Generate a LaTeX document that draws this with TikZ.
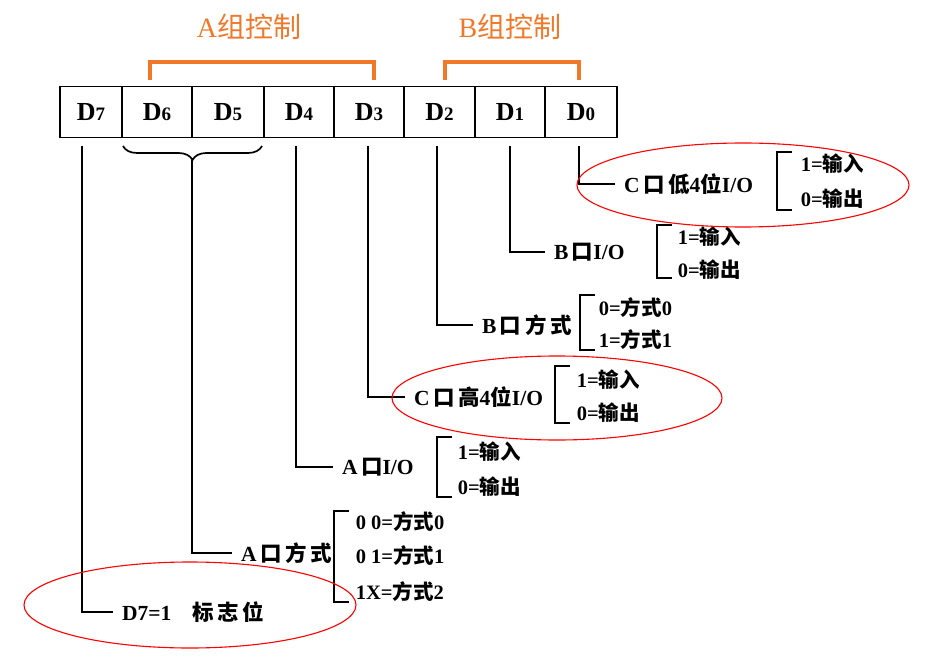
\documentclass[tikz,border=0pt]{standalone}
\usepackage{fontspec}
\setmainfont{Liberation Serif}
\newfontfamily\cjk{Noto Sans CJK SC}
\usetikzlibrary{decorations.pathreplacing}
\definecolor{grouporange}{RGB}{240,120,40}
\newcommand{\zh}[1]{{\cjk #1}}
\newcommand{\bitname}[1]{D{\fontsize{19}{19}\selectfont #1}}
\newcommand{\optbrack}[3]{\draw (#1+15,#2) -- (#1,#2) -- (#1,#3) -- (#1+15,#3);}
\tikzset{
  cell/.style={draw, line width=1.4pt, minimum height=51pt, inner sep=0pt, outer sep=0pt,
    font=\bfseries\fontsize{26}{26}\selectfont},
  desc/.style={anchor=west, inner sep=0pt, outer xsep=9pt, font=\bfseries\fontsize{21.5}{25}\selectfont},
  opt/.style={anchor=west, inner sep=0pt, font=\bfseries\fontsize{20.5}{24}\selectfont},
  grp/.style={text=grouporange, font=\fontsize{28}{32}\selectfont},
  ring/.style={draw=red, line width=1.1pt}
}
\begin{document}
\begin{tikzpicture}[x=1pt, y=-1pt, line width=1.7pt]
            \useasboundingbox[fill=white] (0,0) rectangle (928,660);
            % control word cells
            \foreach \n/\l/\r in {7/60/122,6/122/192,5/192/264,4/264/334,3/334/404,2/404/475,1/475/545,0/545/617}
                \node[cell, minimum width={(\r-\l)*1pt}] (d\n) at ({(\l+\r)/2},112) {\bitname{\n}};
            % group labels
            \node[grp] (ga) at (249,27) {A\zh{组控制}};
            \node[grp] (gb) at (510,27) {B\zh{组控制}};
            \draw[grouporange, line width=3.2pt] (150,80) |- (374,62) -- (374,80);
            \draw[grouporange, line width=3.2pt] (445,80) |- (579,62) -- (579,80);
            % line tops
            \coordinate (t7) at (82,146);
            \coordinate (t65) at (192,160);
            \coordinate (t4) at (296,146);
            \coordinate (t3) at (368,146);
            \coordinate (t2) at (437,146);
            \coordinate (t1) at (510,146);
            \coordinate (t0) at (579,146);
            \draw[decorate, decoration={brace, mirror, amplitude=14pt}] (123,146) -- (262,146);
            % descriptions
            \node[desc] (c0) at (615,184) {C\,\zh{口\,低}4\zh{位}I/O};
            \node[desc] (b1) at (545,252) {B\,\zh{口}I/O};
            \node[desc] (b2) at (473,325) {B\,\zh{口\,方\,式}};
            \node[desc] (c3) at (405,397) {C\,\zh{口\,高}4\zh{位}I/O};
            \node[desc] (a4) at (333,467) {A\,\zh{口}I/O};
            \node[desc] (a65) at (232,553) {A\,\zh{口\,方\,式}};
            \node[desc] (f7) at (113,612) {D7=1\quad\zh{标\,志\,位}};
            \draw (t0) |- (c0.west);
            \draw (t1) |- (b1.west);
            \draw (t2) |- (b2.west);
            \draw (t3) |- (c3.west);
            \draw (t4) |- (a4.west);
            \draw (t65) |- (a65.west);
            \draw (t7) |- (f7.west);
            % options
            \node[opt] (c0a) at (800,164) {1=\zh{输入}};
            \node[opt] (c0b) at (800,199) {0=\zh{输出}};
            \optbrack{777}{152}{210}
            \node[opt] (b1a) at (677,237) {1=\zh{输入}};
            \node[opt] (b1b) at (677,270) {0=\zh{输出}};
            \optbrack{657}{225}{278}
            \node[opt] (b2a) at (598,308) {0=\zh{方式}0};
            \node[opt] (b2b) at (598,340) {1=\zh{方式}1};
            \optbrack{580}{295}{350}
            \node[opt] (c3a) at (576,380) {1=\zh{输入}};
            \node[opt] (c3b) at (576,413) {0=\zh{输出}};
            \optbrack{555}{366}{423}
            \node[opt] (a4a) at (457,452) {1=\zh{输入}};
            \node[opt] (a4b) at (457,487) {0=\zh{输出}};
            \optbrack{437}{437}{497}
            \node[opt] (a65a) at (355,522) {0 0=\zh{方式}0};
            \node[opt] (a65b) at (355,556) {0 1=\zh{方式}1};
            \node[opt] (a65c) at (355,592) {1X=\zh{方式}2};
            \optbrack{334}{511}{602}
            % highlights
            \draw[ring] (743,185) ellipse [x radius=166pt, y radius=42pt];
            \draw[ring] (557,398) ellipse [x radius=165pt, y radius=42pt];
            \draw[ring] (190,605) ellipse [x radius=166pt, y radius=43pt];
        \end{tikzpicture}
\end{document}
